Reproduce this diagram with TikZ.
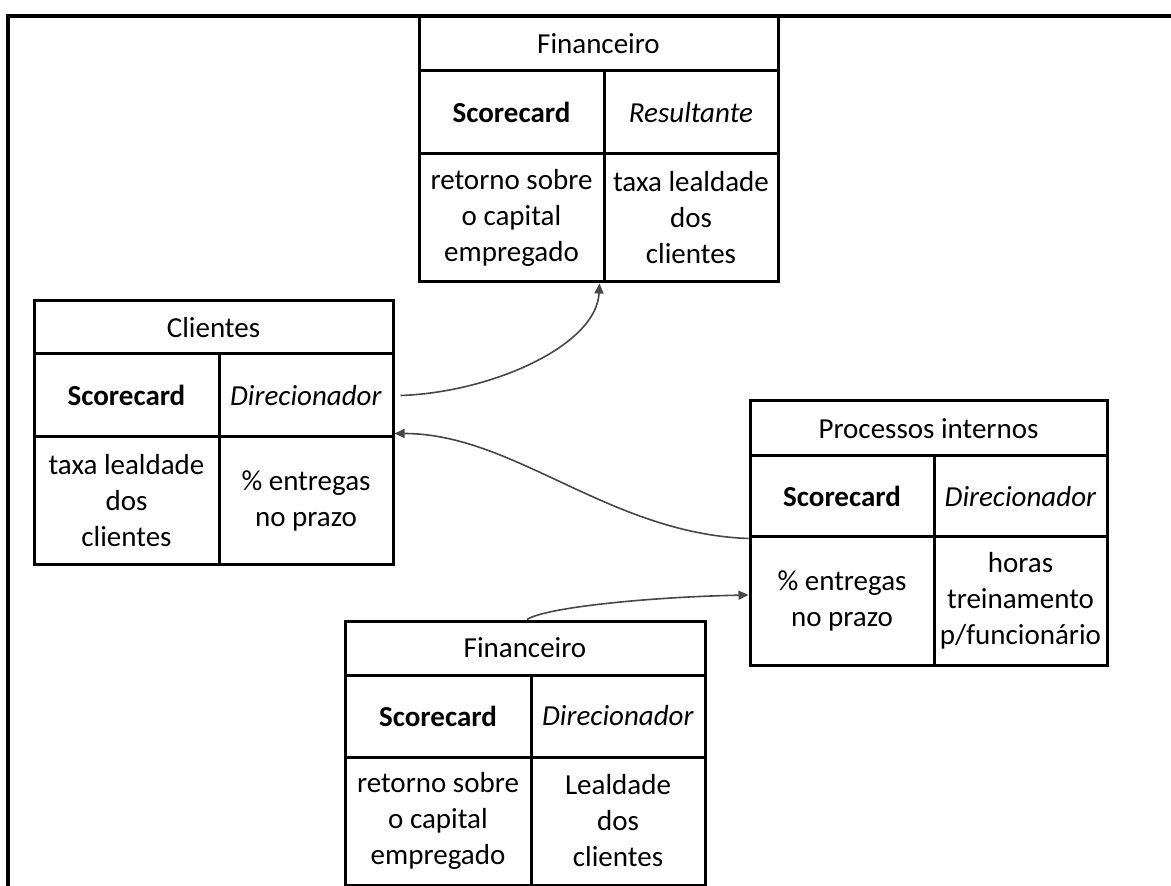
\documentclass[tikz,border=0pt]{standalone}
\usepackage{fontspec}
\setmainfont{Carlito}
\usetikzlibrary{arrows.meta}
\begin{document}
\begin{tikzpicture}[x=0.5pt,y=-0.5pt,
  cell/.style={draw, line width=1.5pt, inner sep=0pt, align=center,
    font=\fontsize{14.5}{18}\selectfont},
  wh/.style 2 args={minimum width=#1*0.5pt, minimum height=#2*0.5pt},
  frame/.style={line width=1.6pt},
  conn/.style={draw=black!72, line width=0.8pt,
    -{Triangle[length=5pt,width=4.5pt]}},
]
\useasboundingbox (0,0) rectangle (1171,886);

% outer frame (top and left edges)
\draw[frame] (8,886) -- (8,16) -- (1171,16);

% Financeiro (resultante)
\node[cell, wh={359}{55}]  (fin1-t)  at (598.5,43.5) {Financeiro};
\node[cell, wh={185}{83}]  (fin1-hL) at (511.5,112.5) {\textbf{Scorecard}};
\node[cell, wh={174}{83}]  (fin1-hR) at (691,112.5) {\textit{Resultante}};
\node[cell, wh={185}{128}] (fin1-bL) at (511.5,218) {retorno sobre\\o capital\\empregado};
\node[cell, wh={174}{128}] (fin1-bR) at (691,218) {taxa lealdade\\dos\\clientes};

% Clientes
\node[cell, wh={359}{53}]  (cli-t)  at (213.5,327.5) {Clientes};
\node[cell, wh={185}{83}]  (cli-hL) at (126.5,395.5) {\textbf{Scorecard}};
\node[cell, wh={174}{83}]  (cli-hR) at (306,395.5) {\textit{Direcionador}};
\node[cell, wh={185}{128}] (cli-bL) at (126.5,501) {taxa lealdade\\dos\\clientes};
\node[cell, wh={174}{128}] (cli-bR) at (306,501) {\% entregas\\no prazo};

% Processos internos
\node[cell, wh={357}{55}]  (proc-t)  at (928.5,428.5) {Processos internos};
\node[cell, wh={184}{81}]  (proc-hL) at (842,496.5) {\textbf{Scorecard}};
\node[cell, wh={173}{81}]  (proc-hR) at (1020.5,496.5) {\textit{Direcionador}};
\node[cell, wh={184}{128}] (proc-bL) at (842,601) {\% entregas\\no prazo};
\node[cell, wh={173}{128}] (proc-bR) at (1020.5,601) {horas\\treinamento\\p/funcionário};

% Financeiro (direcionador)
\node[cell, wh={360}{54}]  (fin2-t)  at (525,648) {Financeiro};
\node[cell, wh={186}{82}]  (fin2-hL) at (438,716) {\textbf{Scorecard}};
\node[cell, wh={174}{82}]  (fin2-hR) at (618,716) {\textit{Direcionador}};
\node[cell, wh={186}{128}] (fin2-bL) at (438,821) {retorno sobre\\o capital\\empregado};
\node[cell, wh={174}{128}] (fin2-bR) at (618,821) {Lealdade\\dos\\clientes};

% cause-and-effect links
\draw[conn] ([xshift=3pt]cli-hR.east)
  .. controls +(91,-3) and +(-3,62) .. ([xshift=-3pt]fin1-bL.south east);
\draw[conn] (proc-hL.south west)
  .. controls +(-140,-5) and +(120,0) .. ([yshift=2.5pt]cli-hR.south east);
\draw[conn] ([xshift=1pt]fin2-t.north)
  .. controls +(18,-12) and +(-100,2) .. ([yshift=3pt]proc-bL.west);
\end{tikzpicture}
\end{document}
